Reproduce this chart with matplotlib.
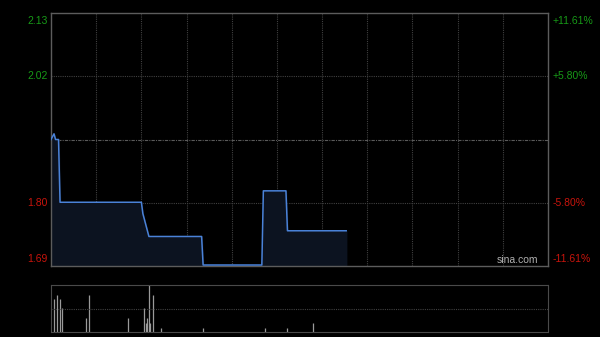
import numpy as np
import matplotlib
matplotlib.use("Agg")
import matplotlib.pyplot as plt

plt.rcParams['font.family'] = ['Liberation Sans', 'DejaVu Sans']

# Данные (минуты от 9:30, цены)
prev_close = 1.91
minutes = [0, 2, 3, 5, 6, 60, 61, 65, 100, 101, 140, 141, 156, 157, 196]
prices = [1.91, 1.92, 1.91, 1.91, 1.80, 1.80, 1.78, 1.74, 1.74, 1.69, 1.69, 1.82, 1.82, 1.75, 1.75]

vol_minutes = [2, 4, 6, 7, 23, 25, 51, 62, 63, 64, 65, 66, 68, 73, 101, 142, 157, 174]
volumes = [33, 37, 33, 24, 14, 37, 14, 24, 9, 14, 47, 9, 37, 4.5, 4.5, 4.5, 4.5, 9]

left_labels = ["1.69", "1.80", "2.02", "2.13"]
right_labels = ["-11.61%", "-5.80%", "+5.80%", "+11.61%"]
pct = [-0.1161, -0.058, 0.058, 0.1161]

total_min = 330
green = "#179a17"
red = "#c8140c"
grid_c = "#404040"

fig = plt.figure(figsize=(6, 3.37), dpi=100, facecolor="black")
ax = fig.add_axes([51/600, 1-266/337, 497/600, 253/337], facecolor="black")
axv = fig.add_axes([51/600, 1-332/337, 497/600, 47/337], facecolor="black")

ymin = prev_close * (1 + pct[0])
ymax = prev_close * (1 + pct[-1])
ax.set_xlim(0, total_min)
ax.set_ylim(ymin, ymax)

# сетка
for m in range(30, total_min, 30):
    ax.axvline(m, color=grid_c, lw=0.8, ls=(0, (1, 1)), zorder=1)
for p in pct[1:3]:
    ax.axhline(prev_close * (1 + p), color=grid_c, lw=0.8, ls=(0, (1, 1)), zorder=1)
ax.axhline(prev_close, color="#5a5a5a", lw=0.8, ls=(0, (3, 1, 1, 1)), zorder=1)

ax.fill_between(minutes, prices, ymin, color="#0c1320", zorder=2)
ax.plot(minutes, prices, color="#4a82d8", lw=1.1, zorder=3)

for s in ax.spines.values():
    s.set_color("#5c5c5c")
    s.set_linewidth(1)
ax.set_xticks([])
ax.set_yticks([])

levels = [prev_close * (1 + p) for p in pct]
vas = ["bottom", "center", "center", "top"]
offs = [0.004, 0, 0, -0.006]
for lv, ll, rl, va, p, o in zip(levels, left_labels, right_labels, vas, pct, offs):
    c = green if p > 0 else red
    ax.text(-0.007, lv + o, ll, color=c, fontsize=7.5, ha="right", va=va,
            transform=ax.get_yaxis_transform())
    ax.text(1.01, lv + o, rl, color=c, fontsize=7.5, ha="left", va=va,
            transform=ax.get_yaxis_transform())

ax.text(0.98, 0.005, "sina.com", color="#b0b0b0", fontsize=7.5, ha="right", va="bottom",
        transform=ax.transAxes)

# объём
axv.set_xlim(0, total_min)
axv.set_ylim(0, max(volumes))
axv.vlines(vol_minutes, 0, volumes, color="#9a9a9a", lw=0.9)
axv.axhline(max(volumes) / 2, color=grid_c, lw=0.8, ls=(0, (1, 1)))
for side in ["top", "bottom"]:
    axv.spines[side].set_color("#4a4a4a")
    axv.spines[side].set_linestyle((0, (1, 1)))
for side in ["left", "right"]:
    axv.spines[side].set_color("#4a4a4a")
axv.set_xticks([])
axv.set_yticks([])

fig.savefig("out.png", dpi=100, facecolor="black")
